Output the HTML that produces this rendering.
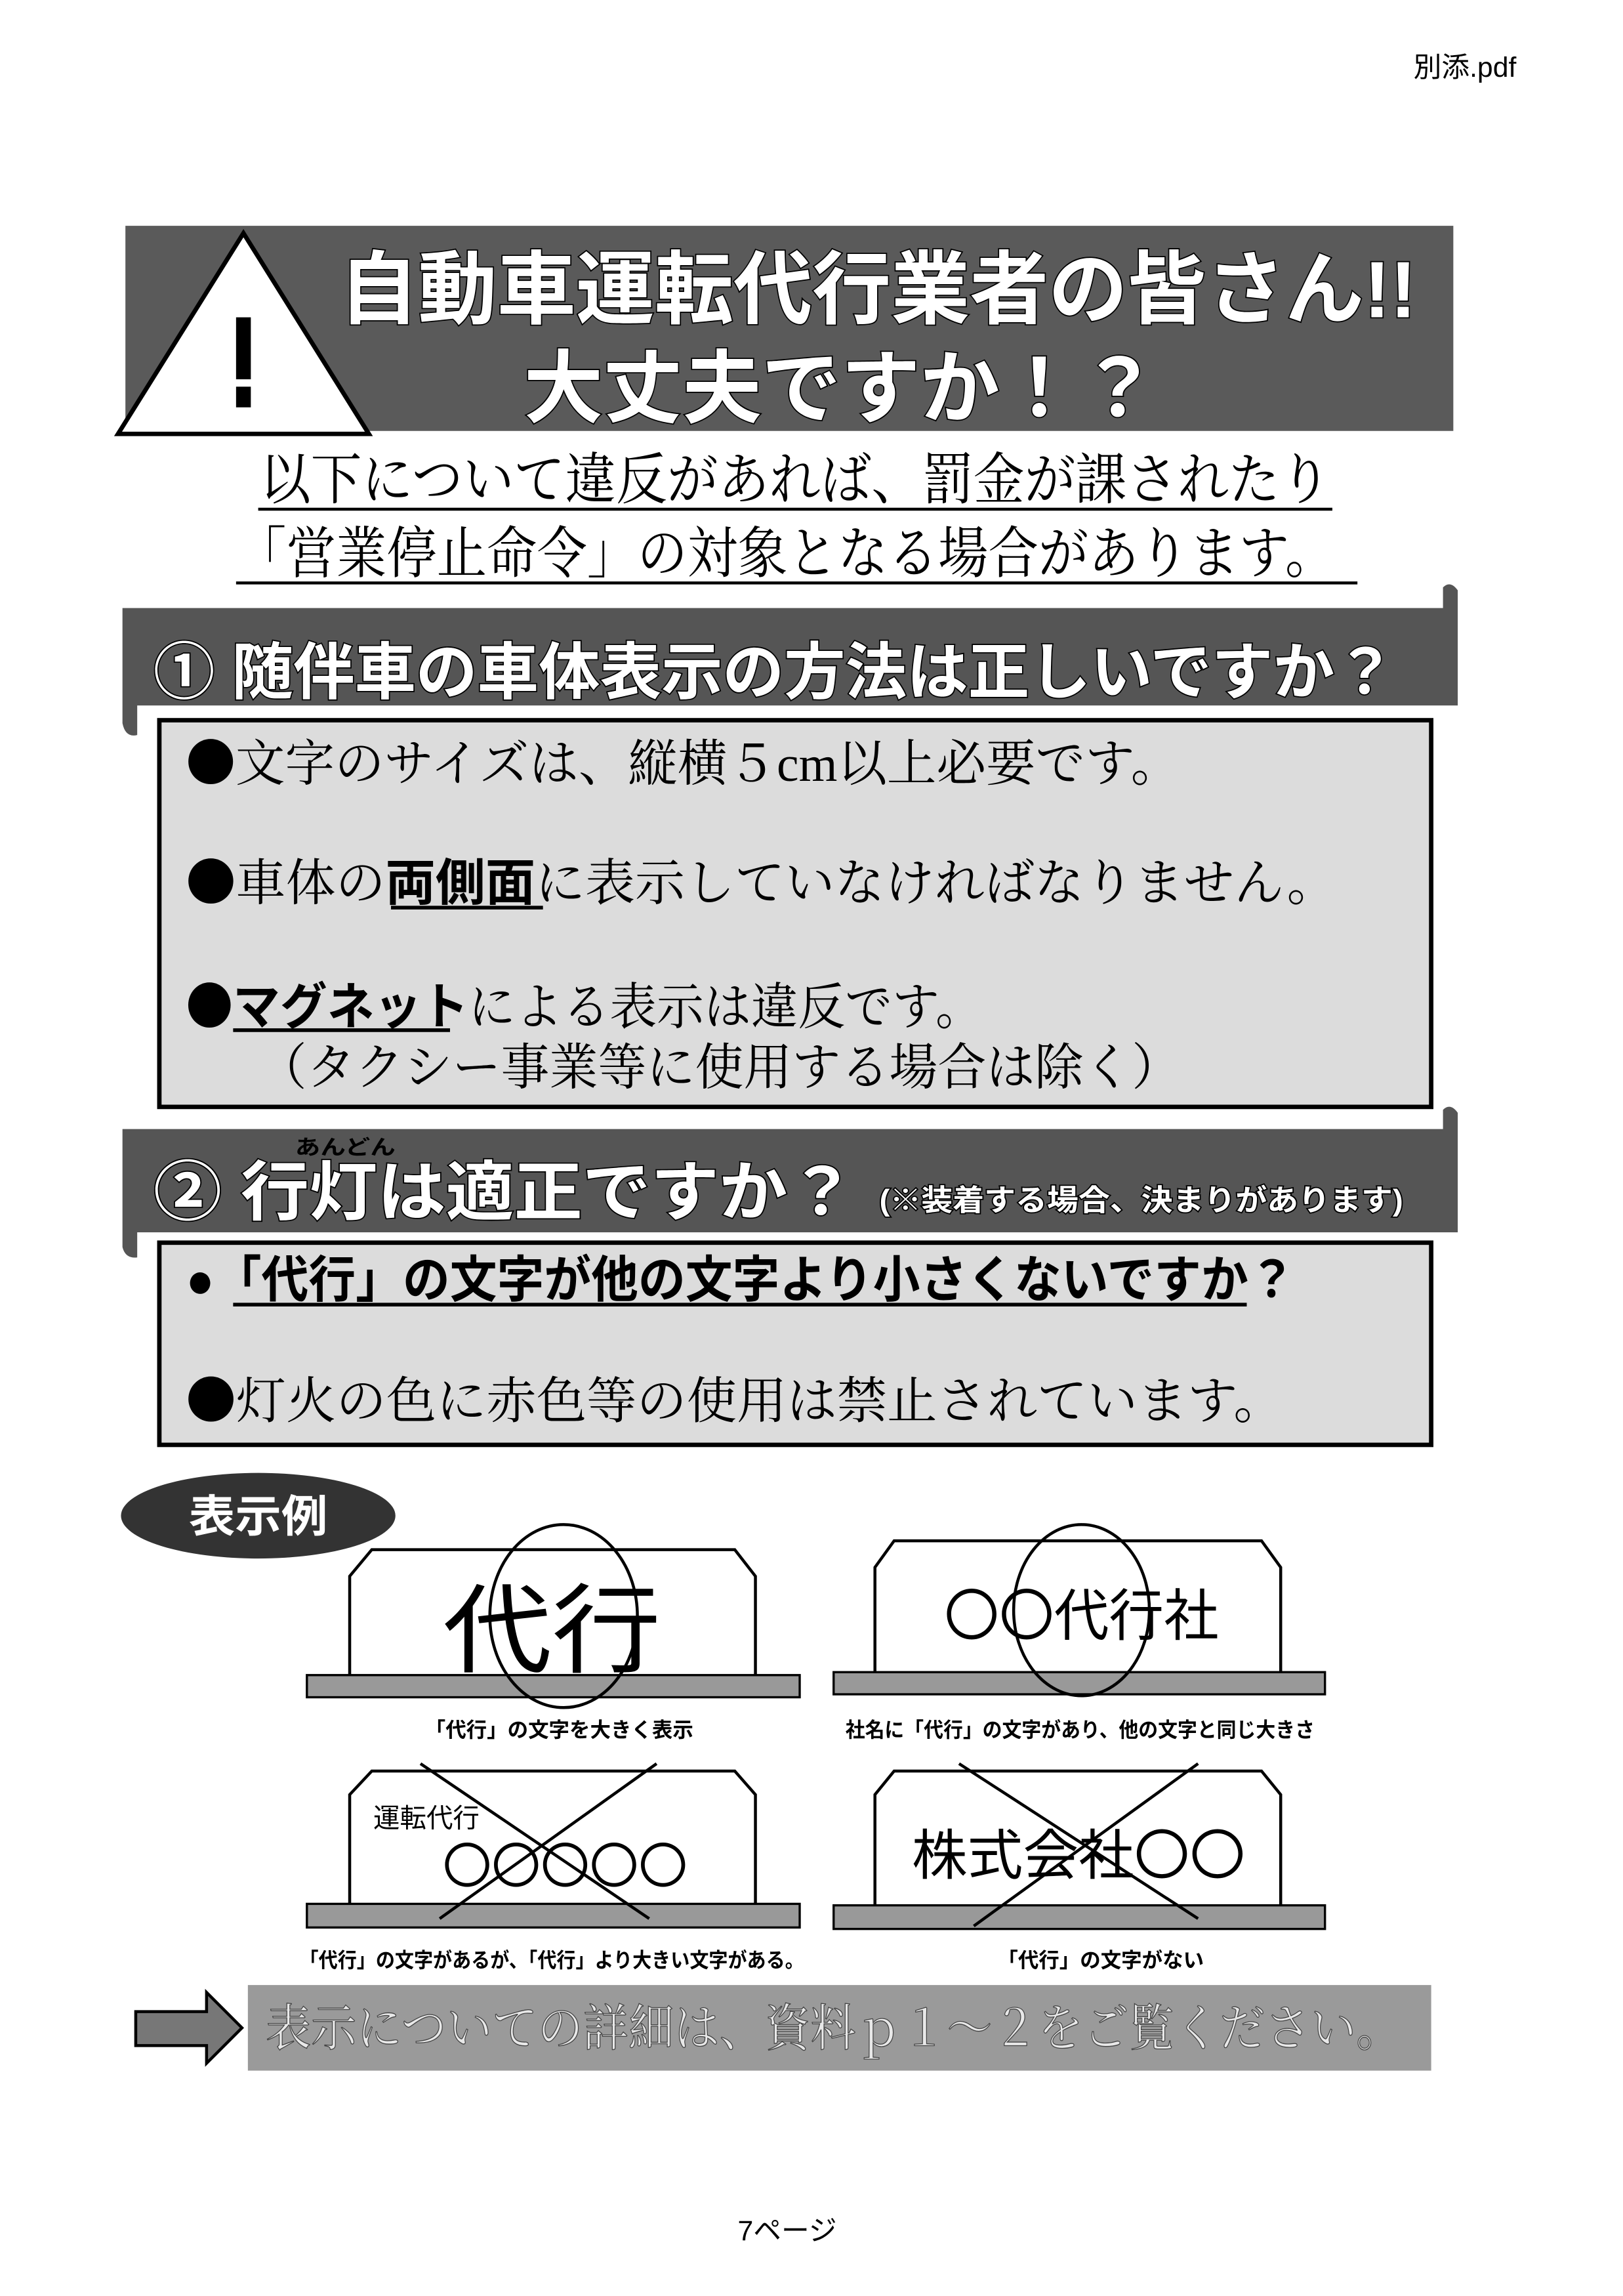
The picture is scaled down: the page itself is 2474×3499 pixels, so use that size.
<!DOCTYPE html>
<html><head><meta charset="utf-8"><style>
html,body{margin:0;padding:0;background:#fff;}
svg{display:block;}
.g{font-family:"Liberation Sans","Noto Sans CJK JP",sans-serif;font-weight:bold;}
.m{font-family:"Liberation Serif","Noto Serif CJK SC",serif;}
.w{fill:#fff;stroke:#000;stroke-width:1.6;paint-order:stroke;}
.b{font-family:"Noto Sans CJK JP",sans-serif;font-weight:normal;}
</style></head><body>
<svg width="2474" height="3499" viewBox="0 0 1100 1555.7" preserveAspectRatio="none" xmlns="http://www.w3.org/2000/svg">
<rect width="1100" height="1556" fill="#fff"/>
<text x="958" y="52" font-size="19" font-family="Liberation Sans, Noto Sans CJK JP, sans-serif">別添.pdf</text>

<!-- title banner -->
<rect x="85" y="153" width="900" height="139" fill="#5a5a5a"/>
<polygon points="165,158 250,294 80,294" fill="#fff" stroke="#000" stroke-width="3"/>
<rect x="160" y="215" width="10" height="42" fill="#000"/>
<rect x="160" y="262" width="10" height="14" fill="#000"/>
<text x="230" y="215" font-size="54" class="g w" textLength="730" lengthAdjust="spacingAndGlyphs">自動車運転代行業者の皆さん!!</text>
<text x="355" y="282" font-size="54" class="g w" textLength="430" lengthAdjust="spacingAndGlyphs">大丈夫ですか！？</text>

<!-- subtitle -->
<text x="176" y="338" font-size="38" class="m" textLength="726" lengthAdjust="spacingAndGlyphs">以下について違反があれば、罰金が課されたり</text>
<line x1="175" y1="345" x2="903" y2="345" stroke="#000" stroke-width="2"/>
<text x="160" y="388" font-size="38" class="m" textLength="745" lengthAdjust="spacingAndGlyphs">「営業停止命令」の対象となる場合があります。</text>
<line x1="160" y1="395" x2="920" y2="395" stroke="#000" stroke-width="2"/>

<!-- section 1 -->
<path d="M83,412 L978,412 L978,398 Q983,393 988,400 L988,478 L93,478 L93,498 Q85,500 83,490 Z" fill="#555"/>
<rect x="108" y="488" width="862" height="262" fill="#dcdcdc" stroke="#000" stroke-width="3"/>
<text x="104" y="470" font-size="42" class="g w" textLength="842" lengthAdjust="spacingAndGlyphs">① 随伴車の車体表示の方法は正しいですか？</text>
<text x="126" y="529" font-size="34" class="m" textLength="674" lengthAdjust="spacingAndGlyphs"><tspan class="b">●</tspan>文字のサイズは、縦横５cm以上必要です。</text>
<text x="126" y="610" font-size="34" class="m" textLength="780" lengthAdjust="spacingAndGlyphs"><tspan class="b">●</tspan>車体の<tspan font-weight="bold" font-family="Liberation Sans, Noto Sans CJK JP, sans-serif">両側面</tspan>に表示していなければなりません。</text>
<line x1="265" y1="615" x2="368" y2="615" stroke="#000" stroke-width="2.5"/>
<text x="126" y="694" font-size="34" class="m" textLength="540" lengthAdjust="spacingAndGlyphs"><tspan class="b">●</tspan><tspan font-weight="bold" font-family="Liberation Sans, Noto Sans CJK JP, sans-serif">マグネット</tspan>による表示は違反です。</text>
<line x1="158" y1="698" x2="305" y2="698" stroke="#000" stroke-width="2.5"/>
<text x="175" y="735" font-size="34" class="m" textLength="625" lengthAdjust="spacingAndGlyphs">（タクシー事業等に使用する場合は除く）</text>

<!-- section 2 -->
<path d="M83,765 L978,765 L978,752 Q983,747 988,754 L988,835 L93,835 L93,852 Q85,853 83,845 Z" fill="#555"/>
<rect x="108" y="842" width="862" height="137" fill="#dcdcdc" stroke="#000" stroke-width="3"/>
<text x="200" y="782" font-size="14" class="g" textLength="68" lengthAdjust="spacingAndGlyphs">あんどん</text>
<text x="104" y="823" font-size="44" class="g w" textLength="476" lengthAdjust="spacingAndGlyphs">② 行灯は適正ですか？</text>
<text x="596" y="820" font-size="20" class="g w" textLength="355" lengthAdjust="spacingAndGlyphs">(※装着する場合、決まりがあります)</text>
<text x="126" y="879" font-size="34" class="g" textLength="752" lengthAdjust="spacingAndGlyphs">●「代行」の文字が他の文字より小さくないですか？</text>
<line x1="158" y1="884" x2="845" y2="884" stroke="#000" stroke-width="2.5"/>
<text x="126" y="961" font-size="34" class="m" textLength="744" lengthAdjust="spacingAndGlyphs"><tspan class="b">●</tspan>灯火の色に赤色等の使用は禁止されています。</text>

<!-- 表示例 -->
<ellipse cx="175" cy="1027" rx="93" ry="29" fill="#333"/>
<text x="128" y="1038" font-size="30" class="g" fill="#fff" textLength="94" lengthAdjust="spacingAndGlyphs">表示例</text>

<!-- sign 1 -->
<path d="M237,1136 L237,1068 L252,1050 L498,1050 L512,1068 L512,1136" fill="#fff" stroke="#000" stroke-width="2"/>
<rect x="208" y="1135" width="334" height="15" fill="#999" stroke="#000" stroke-width="1.5"/>
<text x="300" y="1128" font-size="66" font-family="Liberation Sans, Noto Sans CJK JP, sans-serif" textLength="148" lengthAdjust="spacingAndGlyphs">代行</text>
<ellipse cx="382" cy="1095" rx="50" ry="62" fill="none" stroke="#000" stroke-width="2"/>
<text x="288" y="1177" font-size="14" class="g">「代行」の文字を大きく表示</text>

<!-- sign 2 -->
<path d="M593,1133 L593,1062 L606,1044 L855,1044 L868,1062 L868,1133" fill="#fff" stroke="#000" stroke-width="2"/>
<rect x="565" y="1133" width="333" height="15" fill="#999" stroke="#000" stroke-width="1.5"/>
<text x="640" y="1108" font-size="38" font-family="Liberation Sans, Noto Sans CJK JP, sans-serif" textLength="186" lengthAdjust="spacingAndGlyphs">〇〇代行社</text>
<ellipse cx="733" cy="1091" rx="46" ry="58" fill="none" stroke="#000" stroke-width="2"/>
<text x="573" y="1177" font-size="14" class="g" textLength="318" lengthAdjust="spacingAndGlyphs">社名に「代行」の文字があり、他の文字と同じ大きさ</text>

<!-- sign 3 -->
<path d="M237,1291 L237,1216 L252,1200 L498,1200 L512,1216 L512,1291" fill="#fff" stroke="#000" stroke-width="2"/>
<rect x="208" y="1290" width="334" height="16" fill="#999" stroke="#000" stroke-width="1.5"/>
<text x="253" y="1238" font-size="18" font-family="Liberation Sans, Noto Sans CJK JP, sans-serif">運転代行</text>
<text x="300" y="1276" font-size="33" font-family="Liberation Sans, Noto Sans CJK JP, sans-serif" textLength="166" lengthAdjust="spacingAndGlyphs">〇〇〇〇〇</text>
<line x1="285" y1="1195" x2="440" y2="1300" stroke="#000" stroke-width="2"/>
<line x1="445" y1="1195" x2="298" y2="1300" stroke="#000" stroke-width="2"/>
<text x="203" y="1333" font-size="14" class="g" textLength="342" lengthAdjust="spacingAndGlyphs">「代行」の文字があるが、「代行」より大きい文字がある。</text>

<!-- sign 4 -->
<path d="M593,1291 L593,1216 L606,1200 L855,1200 L868,1216 L868,1291" fill="#fff" stroke="#000" stroke-width="2"/>
<rect x="565" y="1291" width="333" height="16" fill="#999" stroke="#000" stroke-width="1.5"/>
<text x="618" y="1270" font-size="37" font-family="Liberation Sans, Noto Sans CJK JP, sans-serif" textLength="226" lengthAdjust="spacingAndGlyphs">株式会社〇〇</text>
<line x1="650" y1="1195" x2="812" y2="1300" stroke="#000" stroke-width="2"/>
<line x1="812" y1="1195" x2="660" y2="1305" stroke="#000" stroke-width="2"/>
<text x="676" y="1333" font-size="14" class="g">「代行」の文字がない</text>

<!-- bottom -->
<polygon points="92,1363 140,1363 140,1350 164,1374 140,1398 140,1386 92,1386" fill="#777" stroke="#000" stroke-width="2"/>
<rect x="168" y="1345" width="802" height="58" fill="#9a9a9a"/>
<text x="180" y="1386" font-size="34" class="m" fill="#e8e8e8" stroke="#444" stroke-width="0.6" textLength="770" lengthAdjust="spacingAndGlyphs">表示についての詳細は、資料ｐ１～２をご覧ください。</text>

<text x="500" y="1518" font-size="19" font-family="Liberation Sans, Noto Sans CJK JP, sans-serif">7ページ</text>
</svg>
</body></html>
